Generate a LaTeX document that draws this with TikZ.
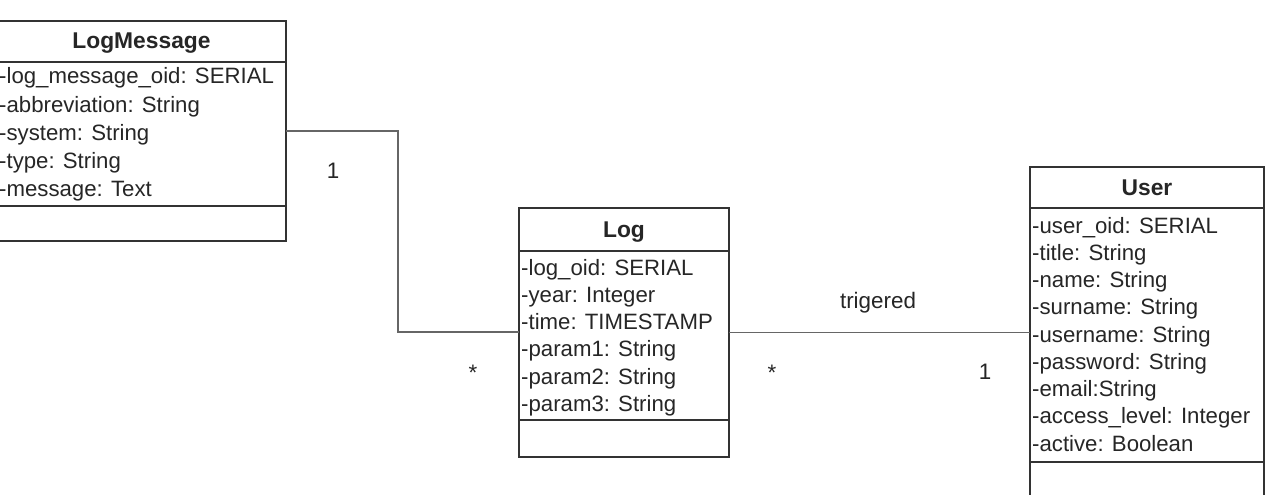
\documentclass[tikz,border=0pt]{standalone}
\usepackage{fontspec}
\setmainfont{Liberation Sans}
\begin{document}
\begin{tikzpicture}[x=1pt,y=-1pt,
  every node/.style={text=black!85},
  comp/.style={draw=black!80, line width=1.8pt, rectangle, inner sep=0pt, outer sep=0pt, anchor=north west},
  hdr/.style={comp, font=\fontsize{22.8}{27}\selectfont\bfseries, text height=18pt, text depth=3pt},
  attr/.style={anchor=base west, inner sep=0pt, font=\fontsize{22.2}{27}\selectfont},
  lbl/.style={anchor=base, inner sep=0pt, font=\fontsize{22.4}{27}\selectfont},
  conn/.style={draw=black!60, line width=1.4pt}
]
\useasboundingbox (0,0) rectangle (1275,495);
\fill[white] (0,0) rectangle (1275,495);

% LogMessage
\node[hdr, minimum width=289pt, minimum height=41pt] (lm) at (-3,21) {LogMessage};
\node[comp, minimum width=289pt, minimum height=144pt] (lmattr) at (lm.south west) {};
\node[comp, minimum width=289pt, minimum height=35pt] (lmops) at (lmattr.south west) {};
\foreach \t [count=\i] in {-log\_message\_oid: SERIAL, -abbreviation: String, -system: String, -type: String, -message: Text}
  \node[attr] (lma\i) at (-1,{84+(\i-1)*28}) {\t};

% Log
\node[hdr, minimum width=210pt, minimum height=43pt] (log) at (519,208) {Log};
\node[comp, minimum width=210pt, minimum height=169pt] (logattr) at (log.south west) {};
\node[comp, minimum width=210pt, minimum height=37pt] (logops) at (logattr.south west) {};
\foreach \t [count=\i] in {-log\_oid: SERIAL, -year: Integer, -time: TIMESTAMP, -param1: String, -param2: String, -param3: String}
  \node[attr] (loga\i) at (521,{275+(\i-1)*27.3}) {\t};

% User
\node[hdr, minimum width=234pt, minimum height=41pt] (user) at (1030,167) {User};
\node[comp, minimum width=234pt, minimum height=254pt] (userattr) at (user.south west) {};
\node[comp, minimum width=234pt, minimum height=45pt] (userops) at (userattr.south west) {};
\foreach \t [count=\i] in {-user\_oid: SERIAL, -title: String, -name: String, -surname: String, -username: String, -password: String, -email:String, -access\_level: Integer, -active: Boolean}
  \node[attr] (usera\i) at (1032,{233+(\i-1)*27.25}) {\t};

% connectors
\coordinate (bend) at (398,232);
\draw[conn] ([yshift=3pt]lmattr.east) -| (bend) |- ([yshift=3.5pt]logattr.west);
\draw[conn] ([yshift=3pt]logattr.east) coordinate (lu) -- (lu -| userattr.west);

% labels
\node[lbl] (m1) at (333,178) {1};
\node[lbl] (m2) at (473,380) {*};
\node[lbl] (trig) at (878,308) {trigered};
\node[lbl] (m3) at (772,380) {*};
\node[lbl] (m4) at (985,379) {1};
\end{tikzpicture}
\end{document}
